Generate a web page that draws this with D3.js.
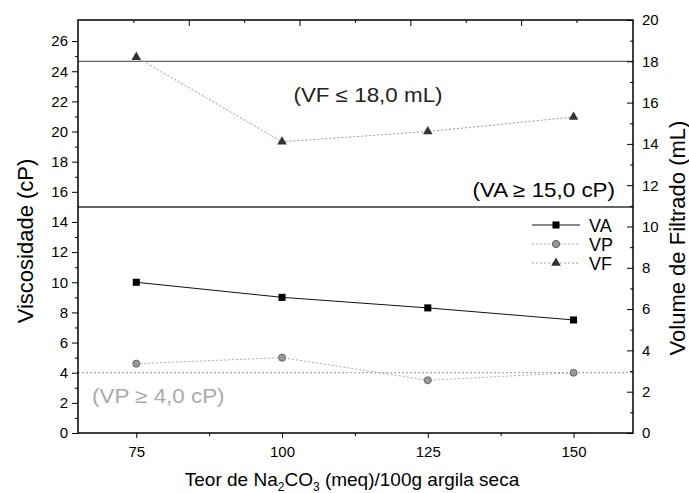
<!DOCTYPE html>
<html>
<head>
<meta charset="utf-8">
<script src="https://cdn.jsdelivr.net/npm/d3@7"></script>
<style>
  body { margin: 0; background: #fff; }
  text { font-family: "Liberation Sans", Arial, sans-serif; }
</style>
</head>
<body>
<svg id="chart" width="689" height="493"></svg>
<script>
// ---- data ----
const categories = [75, 100, 125, 150];
const VA = [10.0, 9.0, 8.3, 7.5];       // cP, left axis
const VP = [4.6, 5.0, 3.5, 4.0];        // cP, left axis
const VF = [18.2, 14.1, 14.6, 15.3];    // mL, right axis
const xTicks = [75, 100, 125, 150];
const xMinor = [87.5, 112.5, 137.5];
const topMajor = [80, 100, 120, 140];
const topMinor = [70, 90, 110, 130, 150];
const leftTicksLower = [0, 2, 4, 6, 8, 10, 12, 14];
const leftTicksUpper = [16, 18, 20, 22, 24, 26];
const rightTicks = [0, 2, 4, 6, 8, 10, 12, 14, 16, 18, 20];
const limitVA = 15.0, limitVP = 4.0, limitVF = 18.0;

const svg = d3.select("#chart");
const L = 78, R = 633, T = 20, B = 433;

const x = d3.scaleLinear().domain([65, 160.2]).range([L, R]);
const xTop = d3.scaleLinear().domain([60, 160.2]).range([L, R]);
const yL = d3.scaleLinear().domain([0, 27.4]).range([B, T]);
const yR = d3.scaleLinear().domain([0, 20]).range([B, T]);

const g = svg.append("g");

// threshold lines
g.append("line").attr("x1", L).attr("x2", R).attr("y1", yR(limitVF)).attr("y2", yR(limitVF))
  .attr("stroke", "#666").attr("stroke-width", 1.2);
g.append("line").attr("x1", L).attr("x2", R).attr("y1", yL(limitVA)).attr("y2", yL(limitVA))
  .attr("stroke", "#333").attr("stroke-width", 1.5);
g.append("line").attr("x1", L).attr("x2", R).attr("y1", yL(limitVP)).attr("y2", yL(limitVP))
  .attr("stroke", "#999").attr("stroke-width", 1).attr("stroke-dasharray", "2,2");

// frame
g.append("rect").attr("x", L).attr("y", T).attr("width", R - L).attr("height", B - T)
  .attr("fill", "none").attr("stroke", "#000").attr("stroke-width", 1.5);

const axisStyle = sel => { sel.select(".domain").remove(); sel.selectAll("text").attr("font-size", 15).attr("fill", "#000"); };

// bottom
svg.append("g").attr("transform", `translate(0,${B})`)
  .call(d3.axisBottom(x).tickValues(xTicks).tickSize(5).tickPadding(8).tickFormat(d3.format("d")))
  .call(axisStyle);
svg.append("g").attr("transform", `translate(0,${B})`)
  .call(d3.axisBottom(x).tickValues(xMinor).tickSize(3).tickFormat(""))
  .call(axisStyle);
// top (inward)
svg.append("g").attr("transform", `translate(0,${T})`)
  .call(d3.axisBottom(xTop).tickValues(topMajor).tickSize(6).tickFormat(""))
  .call(axisStyle);
svg.append("g").attr("transform", `translate(0,${T})`)
  .call(d3.axisBottom(xTop).tickValues(topMinor).tickSize(3).tickFormat(""))
  .call(axisStyle);

// left
svg.append("g").attr("transform", `translate(${L},0)`)
  .call(d3.axisLeft(yL).tickValues(leftTicksLower.concat(leftTicksUpper)).tickSize(6).tickPadding(4))
  .call(axisStyle);
svg.append("g").attr("transform", `translate(${L},0)`)
  .call(d3.axisLeft(yL).tickValues(d3.range(1, 27, 2).filter(v => v !== 15)).tickSize(3).tickFormat(""))
  .call(axisStyle);
// right (inward ticks)
svg.append("g").attr("transform", `translate(${R},0)`)
  .call(d3.axisLeft(yR).tickValues(rightTicks).tickSize(6).tickFormat(""))
  .call(axisStyle);
svg.append("g").attr("transform", `translate(${R},0)`)
  .call(d3.axisLeft(yR).tickValues(d3.range(1, 20, 2)).tickSize(3).tickFormat(""))
  .call(axisStyle);
svg.append("g").attr("transform", `translate(${R},0)`)
  .call(d3.axisRight(yR).tickValues(rightTicks).tickSize(0).tickPadding(9))
  .call(axisStyle);

// series lines
const lineL = d3.line().x((d, i) => x(categories[i])).y(d => yL(d));
const lineR = d3.line().x((d, i) => x(categories[i])).y(d => yR(d));

g.append("path").datum(VA).attr("d", lineL).attr("fill", "none").attr("stroke", "#111").attr("stroke-width", 1);
g.append("path").datum(VP).attr("d", lineL).attr("fill", "none").attr("stroke", "#aaa").attr("stroke-width", 1).attr("stroke-dasharray", "2,2");
g.append("path").datum(VF).attr("d", lineR).attr("fill", "none").attr("stroke", "#999").attr("stroke-width", 1).attr("stroke-dasharray", "2,2");

const sq = d3.symbol().type(d3.symbolSquare).size(50);
const ci = d3.symbol().type(d3.symbolCircle).size(40);
const tr = d3.symbol().type(d3.symbolTriangle).size(40);

g.selectAll(".va").data(VA).enter().append("path")
  .attr("transform", (d, i) => `translate(${x(categories[i])},${yL(d)})`).attr("d", sq).attr("fill", "#000");
g.selectAll(".vp").data(VP).enter().append("path")
  .attr("transform", (d, i) => `translate(${x(categories[i])},${yL(d)})`).attr("d", ci).attr("fill", "#999").attr("stroke", "#555").attr("stroke-width", 0.8);
g.selectAll(".vf").data(VF).enter().append("path")
  .attr("transform", (d, i) => `translate(${x(categories[i])},${yR(d)})`).attr("d", tr).attr("fill", "#333");

// annotations (slightly widened to match the reference's glyph proportions)
function note(xp, yp, anchor, color, str) {
  svg.append("text").attr("transform", `translate(${xp},${yp}) scale(1.12,1)`)
    .attr("text-anchor", anchor).attr("font-size", 20).attr("fill", color).text(str);
}
note(368, 102, "middle", "#222", "(VF \u2264 18,0 mL)");
note(615, 197, "end", "#000", "(VA \u2265 15,0 cP)");
note(92, 403, "start", "#aaa", "(VP \u2265 4,0 cP)");

// legend
const legend = [
  {name: "VA", color: "#111", dash: null, sym: sq, fill: "#000", stroke: "none"},
  {name: "VP", color: "#aaa", dash: "2,2", sym: ci, fill: "#999", stroke: "#555"},
  {name: "VF", color: "#999", dash: "2,2", sym: tr, fill: "#333", stroke: "none"}
];
legend.forEach((d, i) => {
  const yy = 225 + i * 19;
  svg.append("line").attr("x1", 532).attr("x2", 580).attr("y1", yy).attr("y2", yy)
    .attr("stroke", d.color).attr("stroke-width", 1).attr("stroke-dasharray", d.dash);
  svg.append("path").attr("transform", `translate(556,${yy})`).attr("d", d.sym).attr("fill", d.fill).attr("stroke", d.stroke);
  svg.append("text").attr("x", 589).attr("y", yy + 7).attr("font-size", 18).attr("fill", "#000").text(d.name);
});

// axis titles
svg.append("text").attr("transform", `translate(33,241) rotate(-90)`).attr("text-anchor", "middle")
  .attr("font-size", 22).text("Viscosidade (cP)");
svg.append("text").attr("transform", `translate(685,238) rotate(-90)`).attr("text-anchor", "middle")
  .attr("font-size", 22).text("Volume de Filtrado (mL)");
const xt = svg.append("text").attr("x", 352).attr("y", 486).attr("text-anchor", "middle").attr("font-size", 19);
xt.append("tspan").text("Teor de Na");
xt.append("tspan").attr("dy", 5).attr("font-size", 12).text("2");
xt.append("tspan").attr("dy", -5).text("CO");
xt.append("tspan").attr("dy", 5).attr("font-size", 12).text("3");
xt.append("tspan").attr("dy", -5).text(" (meq)/100g argila seca");
</script>
</body>
</html>
